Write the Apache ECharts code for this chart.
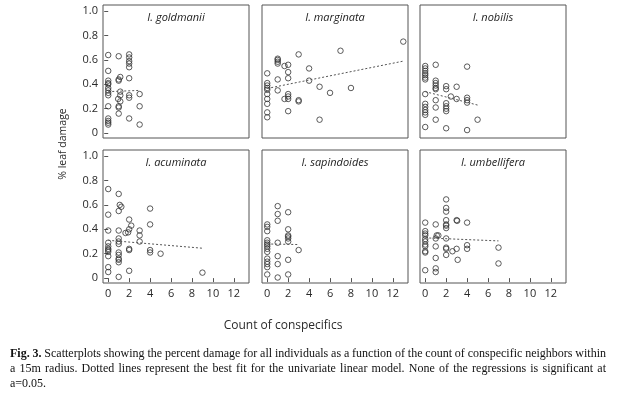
<!DOCTYPE html>
<html>
<head>
<meta charset="utf-8">
<script src="https://cdn.jsdelivr.net/npm/echarts@6/dist/echarts.min.js"></script>
<style>
  html, body { margin: 0; padding: 0; background: #fff; }
  #chart { width: 618px; height: 394px; }
</style>
</head>
<body>
<div id="chart"></div>
<script>
// species, one panel each
var species = ['I. goldmanii', 'I. marginata', 'I. nobilis', 'I. acuminata', 'I. sapindoides', 'I. umbellifera'];

var goldmanii = [
  [0,0.64],[0,0.51],[0,0.43],[0,0.41],[0,0.40],[0,0.37],[0,0.35],[0,0.33],[0,0.31],[0,0.22],[0,0.12],[0,0.10],[0,0.085],[0,0.07],
  [1,0.63],[1.15,0.46],[1,0.44],[1,0.43],[1.15,0.34],[1.15,0.31],[0.95,0.28],[1.15,0.26],[1,0.22],[1,0.21],[1,0.16],
  [2,0.645],[2,0.62],[2,0.59],[2,0.57],[2,0.54],[2,0.45],[2,0.31],[2,0.29],[2,0.12],
  [3,0.32],[3,0.22],[3,0.07]
];
var marginata = [
  [0,0.49],[0,0.41],[0,0.39],[0,0.37],[0,0.355],[0,0.32],[0,0.28],[0,0.24],[0,0.17],[0,0.13],
  [1,0.61],[1,0.60],[1,0.585],[1,0.57],[1,0.44],[1,0.35],
  [1.65,0.55],[2,0.56],[2,0.50],[2,0.45],[1.65,0.28],[2,0.32],[2,0.30],[2,0.28],[2,0.18],
  [3,0.645],[3,0.27],[3,0.26],
  [4,0.53],[4,0.43],
  [5,0.38],[5,0.11],
  [6,0.33],[7,0.675],[8,0.37],[13,0.75]
];
var nobilis = [
  [0,0.55],[0,0.53],[0,0.51],[0,0.49],[0,0.475],[0,0.455],[0,0.44],[0,0.32],[0,0.24],[0,0.215],[0,0.19],[0,0.17],[0,0.15],[0,0.05],
  [1,0.56],[1,0.43],[1,0.41],[1,0.39],[1,0.37],[1,0.36],[1,0.27],[1,0.21],[1,0.11],
  [2,0.385],[2,0.36],[2,0.245],[2,0.22],[2,0.20],[2,0.18],[2,0.04],
  [2.45,0.30],[3,0.38],[3,0.28],
  [4,0.545],[4,0.29],[4,0.27],[4,0.25],[4,0.025],
  [5,0.11]
];
var acuminata = [
  [0,0.73],[0,0.52],[0,0.39],[0,0.29],[0,0.26],[0,0.24],[0,0.23],[0,0.215],[0,0.18],[0,0.09],[0,0.05],
  [1,0.69],[1.1,0.60],[1.25,0.585],[1,0.55],[1,0.39],[1,0.325],[1,0.30],[1,0.28],[1,0.21],[1,0.19],[1,0.16],[1,0.15],[1,0.13],[1,0.01],
  [1.65,0.37],[2,0.48],[2,0.40],[1.9,0.375],[2.2,0.43],[2,0.24],[2,0.23],[2,0.06],
  [3,0.39],[3,0.35],[3,0.30],
  [4,0.57],[4,0.44],[4,0.23],[4,0.21],
  [5,0.20],[9,0.045]
];
var sapindoides = [
  [0,0.44],[0,0.42],[0,0.385],[0,0.31],[0,0.29],[0,0.275],[0,0.26],[0,0.24],[0,0.215],[0,0.16],[0,0.135],[0,0.115],[0,0.09],[0,0.03],
  [1,0.59],[1,0.525],[1,0.47],[1,0.29],[1,0.18],[1,0.115],[1,0.005],
  [2,0.54],[2,0.40],[2,0.35],[2,0.34],[2,0.325],[2,0.30],[2,0.15],[2,0.03],
  [3,0.23]
];
var umbellifera = [
  [0,0.455],[0,0.385],[0,0.365],[0,0.35],[0,0.32],[0,0.30],[0,0.275],[0,0.26],[0,0.22],[0,0.21],[0,0.065],
  [1,0.44],[1.1,0.35],[1.25,0.35],[1,0.325],[1,0.26],[1,0.165],[1,0.08],[1,0.05],
  [2,0.645],[2,0.575],[2,0.545],[2,0.475],[2,0.44],[2,0.43],[2,0.41],[2,0.325],[2,0.25],[2,0.24],[2,0.19],
  [2.6,0.22],[3,0.475],[3.05,0.47],[3,0.24],[3.1,0.15],
  [4,0.455],[4,0.27],[4,0.24],
  [7,0.25],[7,0.12]
];
var points = [goldmanii, marginata, nobilis, acuminata, sapindoides, umbellifera];

// dotted best-fit lines
var fits = [
  [[0,0.34],[3,0.35]],
  [[0,0.366],[13,0.59]],
  [[0,0.34],[5,0.23]],
  [[0,0.31],[9,0.245]],
  [[0,0.28],[3,0.275]],
  [[0,0.33],[7,0.305]]
];

var yTicks = [0, 0.2, 0.4, 0.6, 0.8, 1.0];
var xTicks = [0, 2, 4, 6, 8, 10, 12];

var captionLines = [
  'Fig. 3. Scatterplots showing the percent damage for all individuals as a function of the count of conspecific neighbors within',
  'a 15m radius. Dotted lines represent the best fit for the univariate linear model. None of the regressions is significant at',
  'a=0.05.'
];

var lefts = [103, 262, 420];
var tops = [5, 150];
var W = 146, H = 133;
var ink = '#2a2a2a';
var sans = '"Open Sans", "Noto Sans", sans-serif';
var serifFont = '12px "Liberation Serif", serif';
var serifBold = 'bold 12px "Liberation Serif", serif';

var grids = [], xAxes = [], yAxes = [], series = [], graphics = [];

for (var i = 0; i < 6; i++) {
  var col = i % 3, row = Math.floor(i / 3);
  grids.push({
    left: lefts[col], top: tops[row], width: W, height: H,
    show: true, borderColor: '#555', borderWidth: 1, backgroundColor: 'transparent'
  });
  xAxes.push({
    gridIndex: i, type: 'value', min: -0.5, max: 13.45,
    splitLine: { show: false },
    axisLine: { show: false },
    axisTick: { show: row === 1, customValues: xTicks, length: 4, lineStyle: { color: '#555' } },
    axisLabel: {
      show: row === 1, customValues: xTicks, margin: 5,
      color: ink, fontSize: 11, fontFamily: sans
    }
  });
  yAxes.push({
    gridIndex: i, type: 'value', min: -0.04, max: 1.05,
    splitLine: { show: false },
    axisLine: { show: false },
    axisTick: { show: col === 0, customValues: yTicks, length: 4, lineStyle: { color: '#555' } },
    axisLabel: {
      show: col === 0, customValues: yTicks, margin: 5,
      color: ink, fontSize: 11, fontFamily: sans,
      formatter: function (v) { return v === 0 ? '0' : v.toFixed(1); }
    }
  });
  series.push({
    type: 'scatter', xAxisIndex: i, yAxisIndex: i,
    data: points[i], symbol: 'circle', symbolSize: 5.5,
    itemStyle: { color: 'rgba(0,0,0,0)', borderColor: '#333', borderWidth: 1 },
    silent: true, animation: false
  });
  series.push({
    type: 'line', xAxisIndex: i, yAxisIndex: i,
    data: fits[i], symbol: 'none',
    lineStyle: { color: '#555', width: 1, type: [2, 2] },
    silent: true, animation: false
  });
  // panel title
  graphics.push({
    type: 'text', x: lefts[col] + W / 2, y: tops[row] + 13,
    style: { text: species[i], align: 'center', verticalAlign: 'middle', fill: '#222', font: 'italic 11px ' + sans }
  });
}

graphics.push({
  type: 'text', x: 63, y: 144, rotation: Math.PI / 2,
  style: { text: '% leaf damage', align: 'center', verticalAlign: 'middle', fill: ink, font: '10.5px ' + sans }
});
graphics.push({
  type: 'text', x: 283, y: 326,
  style: { text: 'Count of conspecifics', align: 'center', verticalAlign: 'middle', fill: ink, font: '12px ' + sans }
});

// caption, justified between x=10 and x=606 (last line ragged)
var ctx = document.createElement('canvas').getContext('2d');
var capLeft = 10, capRight = 606, capY = [354, 369, 384];
captionLines.forEach(function (line, li) {
  var words = line.split(' ');
  var fonts = words.map(function (w, k) { return (li === 0 && k < 2) ? serifBold : serifFont; });
  var widths = words.map(function (w, k) { ctx.font = fonts[k]; return ctx.measureText(w).width; });
  var total = widths.reduce(function (a, b) { return a + b; }, 0);
  ctx.font = serifFont;
  var gap = ctx.measureText(' ').width;
  if (li < captionLines.length - 1 && words.length > 1) gap = (capRight - capLeft - total) / (words.length - 1);
  var x = capLeft;
  words.forEach(function (w, k) {
    graphics.push({
      type: 'text', x: x, y: capY[li],
      style: { text: w, verticalAlign: 'middle', fill: '#111', font: fonts[k] }
    });
    x += widths[k] + gap;
  });
});

var chart = echarts.init(document.getElementById('chart'));
chart.setOption({
  backgroundColor: '#fff',
  animation: false,
  grid: grids,
  xAxis: xAxes,
  yAxis: yAxes,
  series: series,
  graphic: graphics
});
</script>
</body>
</html>
